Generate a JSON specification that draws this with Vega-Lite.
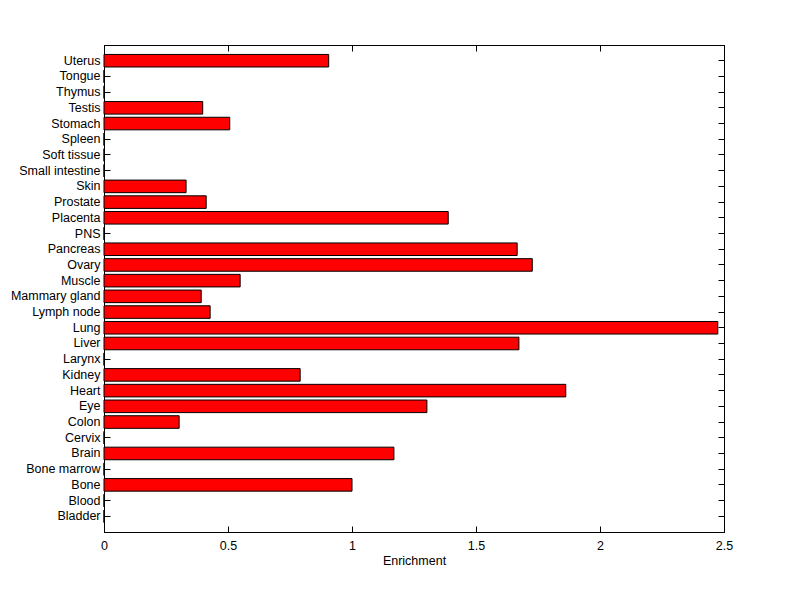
{
  "$schema": "https://vega.github.io/schema/vega-lite/v6.json",
  "width": 620,
  "height": 487,
  "autosize": "none",
  "padding": {"left": 104, "top": 45, "right": 76, "bottom": 67},
  "background": "white",
  "config": {
    "view": {"stroke": "black", "strokeWidth": 1},
    "axis": {
      "labelFont": "Liberation Sans",
      "titleFont": "Liberation Sans",
      "labelFontSize": 12.5,
      "titleFontSize": 12.5,
      "labelColor": "black",
      "titleColor": "black",
      "domainColor": "black",
      "tickColor": "black",
      "grid": false,
      "titleFontWeight": "normal"
    }
  },
  "data": {
    "values": [
      {"tissue": "Bladder", "enrichment": 0},
      {"tissue": "Blood", "enrichment": 0},
      {"tissue": "Bone", "enrichment": 1.0},
      {"tissue": "Bone marrow", "enrichment": 0},
      {"tissue": "Brain", "enrichment": 1.169},
      {"tissue": "Cervix", "enrichment": 0},
      {"tissue": "Colon", "enrichment": 0.303},
      {"tissue": "Eye", "enrichment": 1.302},
      {"tissue": "Heart", "enrichment": 1.862},
      {"tissue": "Kidney", "enrichment": 0.791},
      {"tissue": "Larynx", "enrichment": 0},
      {"tissue": "Liver", "enrichment": 1.673},
      {"tissue": "Lung", "enrichment": 2.475},
      {"tissue": "Lymph node", "enrichment": 0.428},
      {"tissue": "Mammary gland", "enrichment": 0.392},
      {"tissue": "Muscle", "enrichment": 0.549},
      {"tissue": "Ovary", "enrichment": 1.727},
      {"tissue": "Pancreas", "enrichment": 1.666},
      {"tissue": "PNS", "enrichment": 0},
      {"tissue": "Placenta", "enrichment": 1.388},
      {"tissue": "Prostate", "enrichment": 0.412},
      {"tissue": "Skin", "enrichment": 0.331},
      {"tissue": "Small intestine", "enrichment": 0},
      {"tissue": "Soft tissue", "enrichment": 0},
      {"tissue": "Spleen", "enrichment": 0},
      {"tissue": "Stomach", "enrichment": 0.507},
      {"tissue": "Testis", "enrichment": 0.398},
      {"tissue": "Thymus", "enrichment": 0},
      {"tissue": "Tongue", "enrichment": 0},
      {"tissue": "Uterus", "enrichment": 0.906}
    ]
  },
  "layer": [
    {
      "mark": {"type": "bar", "fill": "#ff0000", "stroke": "black", "strokeWidth": 1},
      "encoding": {
        "y": {
          "field": "tissue",
          "type": "nominal",
          "sort": ["Uterus","Tongue","Thymus","Testis","Stomach","Spleen","Soft tissue","Small intestine","Skin","Prostate","Placenta","PNS","Pancreas","Ovary","Muscle","Mammary gland","Lymph node","Lung","Liver","Larynx","Kidney","Heart","Eye","Colon","Cervix","Brain","Bone marrow","Bone","Blood","Bladder"],
          "scale": {"paddingInner": 0.2, "paddingOuter": 0.6},
          "axis": {"title": null, "orient": "left", "tickSize": -6, "labelPadding": 10, "domain": true}
        },
        "x": {
          "field": "enrichment",
          "type": "quantitative",
          "scale": {"domain": [0, 2.5], "nice": false},
          "axis": {"title": "Enrichment", "orient": "bottom", "values": [0, 0.5, 1, 1.5, 2, 2.5], "format": "~g", "tickSize": -6, "labelPadding": 13, "titlePadding": 3, "labelFlush": false}
        }
      }
    },
    {
      "mark": {"type": "bar", "opacity": 0},
      "encoding": {
        "y": {
          "field": "tissue",
          "type": "nominal",
          "sort": ["Uterus","Tongue","Thymus","Testis","Stomach","Spleen","Soft tissue","Small intestine","Skin","Prostate","Placenta","PNS","Pancreas","Ovary","Muscle","Mammary gland","Lymph node","Lung","Liver","Larynx","Kidney","Heart","Eye","Colon","Cervix","Brain","Bone marrow","Bone","Blood","Bladder"],
          "axis": {"title": null, "orient": "right", "tickSize": -6, "labels": false}
        },
        "x": {
          "field": "enrichment",
          "type": "quantitative",
          "axis": {"title": null, "orient": "top", "values": [0, 0.5, 1, 1.5, 2, 2.5], "tickSize": -6, "labels": false}
        }
      }
    }
  ],
  "resolve": {"axis": {"x": "independent", "y": "independent"}}
}
